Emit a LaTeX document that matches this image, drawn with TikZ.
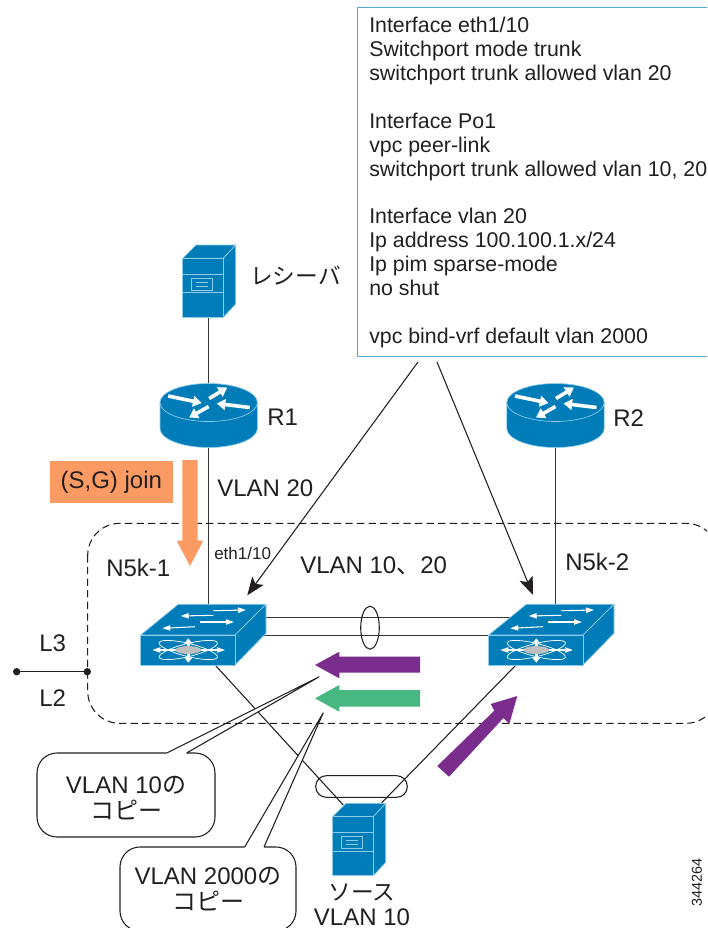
\documentclass[tikz,border=0pt]{standalone}
\usepackage{fontspec}
\setmainfont{Liberation Sans}
\newfontfamily\cjk{Noto Sans CJK JP}
\usetikzlibrary{arrows.meta}
\definecolor{ciscoblue}{HTML}{007DB8}
\definecolor{iconedge}{HTML}{8CCBEA}
\definecolor{ink}{HTML}{231F20}
\definecolor{orangefill}{HTML}{FB9B63}
\definecolor{purplefill}{HTML}{7B2D8E}
\definecolor{greenfill}{HTML}{47B881}
\definecolor{cfgedge}{HTML}{4FA8D5}
\tikzset{
  x=0.75pt,y=-0.75pt,
  every node/.style={text=ink,inner sep=0pt},
  label18/.style={font=\fontsize{18}{21}\selectfont},
  wire/.style={draw=ink!90,line width=0.9pt},
  thinwire/.style={draw=ink,line width=0.8pt},
  iconface/.style={fill=ciscoblue,draw=iconedge,line width=0.5pt,line join=round},
  iconline/.style={draw=iconedge,line width=0.6pt},
  routerarrow/.style={draw=white,line width=2.7pt,-{Triangle[length=6.5pt,width=8pt]}},
  thinarrow/.style={draw=white,line width=0.8pt,-{Triangle[length=6pt,width=4pt]}},
  thickarrow/.style={draw=white,line width=2.3pt,-{Triangle[length=4pt,width=6pt]}},
  calloutbox/.style={draw=ink,line width=0.8pt,rounded corners=15pt,fill=white},
  callouttext/.style={align=center,font=\fontsize{18}{19.6}\selectfont},
  router/.pic={
    \path[iconface] (-48.7,0) -- (-48.7,26) arc[start angle=180,end angle=360,x radius=48.7,y radius=-19] -- (48.7,0) -- cycle;
    \path[iconface] (0,0) ellipse [x radius=48.7,y radius=19];
    \draw[routerarrow] (-40.5,-6.5) -- (-7,0.5);
    \draw[routerarrow] (0.5,-4) -- (18.5,-15);
    \draw[routerarrow] (41,5) -- (8,1);
    \draw[routerarrow] (0,4) -- (-19.5,15);
  },
  serverpic/.pic={
    \path[iconface] (0,0) -- (13.3,-13.3) -- (53,-13.3) -- (40.6,0) -- cycle;
    \path[iconface] (40.6,0) -- (53,-13.3) -- (53,45.7) -- (40.6,59) -- cycle;
    \path[iconface] (0,0) rectangle (40.6,59);
    \draw[iconline] (0,15.7) -- (40.6,15.7) (0,34.4) -- (40.6,34.4);
    \draw[iconline] (8.6,19.7) rectangle (30,31.7);
    \draw[iconline] (13,24) -- (25.5,24) (13,27.6) -- (25.5,27.6);
  },
  switchpic/.pic={
    \path[iconface] (0,0) -- (37.6,-30.7) -- (125.3,-30.7) -- (94.3,0) -- cycle;
    \path[iconface] (94.3,0) -- (125.3,-30.7) -- (125.3,-1.7) -- (94.3,30) -- cycle;
    \path[iconface] (0,0) rectangle (94.3,30);
    \draw[white,line width=0.55pt] (47.6,15) ellipse [x radius=30,y radius=6.5,rotate=14];
    \draw[white,line width=0.55pt] (47.6,15) ellipse [x radius=30,y radius=6.5,rotate=-14];
    \draw[thinarrow] (47.6,15) -- (11.6,15);
    \draw[thinarrow] (47.6,15) -- (84.3,15);
    \draw[thickarrow] (47.6,15) -- (47.6,3.3);
    \draw[thickarrow] (47.6,15) -- (47.6,27.7);
    \fill[black!25] (47.6,15) ellipse [x radius=13,y radius=4];
    \draw[thinarrow] (72.6,-24.3) -- (105.3,-25);
    \draw[thinarrow] (72.6,-19.7) -- (40,-19);
    \draw[thinarrow] (59.3,-13) -- (93.3,-13);
    \draw[thinarrow] (54.3,-8.3) -- (21.6,-6.7);
  },
}
\begin{document}
\begin{tikzpicture}
\useasboundingbox (0,0) rectangle (707,928);
\clip (0,0) rectangle (707,928);
\fill[white] (0,0) rectangle (707,928);

% layout nodes
\node[minimum width=73.05pt,minimum height=48.75pt] (r1) at (208.7,415.7) {};
\node[minimum width=73.05pt,minimum height=48.75pt] (r2) at (555.5,415.7) {};
\node[minimum width=39.75pt,minimum height=54.2pt] (recv) at (209.2,281.3) {};
\node[minimum width=39.75pt,minimum height=54.2pt] (src) at (359.2,839.8) {};
\node[minimum width=94pt,minimum height=45.5pt] (sw1) at (203.3,634.7) {};
\node[minimum width=94pt,minimum height=45.5pt] (sw2) at (551.3,634.7) {};

% named free ends
\coordinate (sw1low) at (216,666);
\coordinate (srcL) at (343.3,805);
\coordinate (sw2low) at (515,666);
\coordinate (srcR) at (381.7,802.7);
\coordinate (pa1) at (266,617.3);
\coordinate (pa2) at (520,617.3);
\coordinate (pb1) at (262,635.7);
\coordinate (pb2) at (495,635.7);
\coordinate (cfgL) at (418,362);
\coordinate (cfgR) at (437,362);
\coordinate (tipL) at (247.3,595.3);
\coordinate (tipR) at (533,595);
\coordinate (dotA) at (16.7,671.7);
\coordinate (dotB) at (87.3,671.7);
\coordinate (tip1) at (319.3,676.7);
\coordinate (c1a) at (166.7,753);
\coordinate (c1b) at (186.6,753);
\coordinate (tip2) at (323.3,712.7);
\coordinate (c2a) at (244.7,847);
\coordinate (c2b) at (264,847);

% wires
\draw[wire] (recv.south -| r1) -- (r1.north);
\draw[wire] (r1.south) -- (r1.south |- sw1.north);
\draw[wire] (r2.south) -- (r2.south |- sw2.north);
\draw[thinwire] (sw1low) -- (srcL);
\draw[thinwire] (sw2low) -- (srcR);
\draw[wire] (pa1) -- (pa2);
\draw[wire] (pb1) -- (pb2);
\draw[thinwire] (370,627.7) ellipse [x radius=9.3,y radius=21.5];
\draw[thinwire,rounded corners=8pt] (315.7,775.7) rectangle (407.3,797.3);

% icons
\pic at (208.7,402.5) {router};
\pic at (555.5,402.5) {router};
\pic at (182.7,258.3) {serverpic};
\pic at (332.7,816.7) {serverpic};
\pic at (140.7,635) {switchpic};
\pic at (488.7,635) {switchpic};

% callouts
\node[calloutbox,minimum width=133.5pt,minimum height=63pt] (c1) at (126,795) {};
\node[calloutbox,minimum width=132pt,minimum height=63pt] (c2) at (208,889) {};
\node[callouttext] (c1text) at (126,798) {VLAN 10{\cjk の}\\{\cjk コピー}};
\node[callouttext] (c2text) at (208,889.5) {VLAN 2000{\cjk の}\\{\cjk コピー}};
\fill[white] (tip1) -- (c1a) -- ([yshift=-1pt]c1a) -- ([yshift=-1pt]c1b) -- (c1b) -- cycle;
\draw[thinwire] (c1a) -- (tip1) -- (c1b);
\fill[white] (tip2) -- (c2a) -- ([yshift=-1pt]c2a) -- ([yshift=-1pt]c2b) -- (c2b) -- cycle;
\draw[thinwire] (c2a) -- (tip2) -- (c2b);

% dashed domain
\draw[ink,line width=0.8pt,dash pattern=on 5.5pt off 3.2pt,rounded corners=24pt] (87.7,523.3) rectangle (718,723.3);

% config box
\node[draw=cfgedge,line width=0.8pt,fill=white,anchor=north west,minimum width=270pt,minimum height=262pt] (cfg) at (357,7) {};
\node[anchor=north west,align=left,font=\fontsize{16}{17.93}\selectfont] (cfgtext) at (369,17) {Interface eth1/10\\Switchport mode trunk\\switchport trunk allowed vlan 20\\[17.93pt]Interface Po1\\vpc peer-link\\switchport trunk allowed vlan 10, 20\\[17.93pt]Interface vlan 20\\Ip address 100.100.1.x/24\\Ip pim sparse-mode\\no shut\\[17.93pt]vpc bind-vrf default vlan 2000};

\draw[thinwire,-{Stealth[length=13.5pt,width=10.5pt,inset=3pt]}] (cfgL) -- (tipL);
\draw[thinwire,-{Stealth[length=13.5pt,width=10.5pt,inset=3pt]}] (cfgR) -- (tipR);

% L3/L2 boundary
\draw[draw=ink,line width=1.1pt] (dotA) -- (dotB);
\fill[ink] (dotA) circle [radius=3.7];
\fill[ink] (dotB) circle [radius=3.7];

% join
\node[fill=orangefill,minimum width=92pt,minimum height=31.7pt,label18] (join) at (111.3,482.2) {(S,G) join};
\fill[orangefill] (182.3,460) -- (197.7,460) -- (197.7,540.7) -- (203.3,540.7) -- (190,566) -- (176.7,540.7) -- (182.3,540.7) -- cycle;

% traffic arrows
\fill[purplefill] (420,656.7) -- (339.3,656.7) -- (339.3,651.7) -- (315,665) -- (339.3,678.3) -- (339.3,672.7) -- (420,672.7) -- cycle;
\fill[greenfill] (420,690) -- (339.3,690) -- (339.3,685) -- (315,698.3) -- (339.3,711.7) -- (339.3,706.7) -- (420,706.7) -- cycle;
\fill[purplefill] (437.3,766) -- (494.3,710.7) -- (490.7,704) -- (517.3,696) -- (509.3,724) -- (503.5,718) -- (449,776.7) -- cycle;

% labels
\node[anchor=west,font=\cjk\fontsize{17}{20}\selectfont] (lblrecv) at (250,276) {レシーバ};
\node[anchor=west,label18] (lblr1) at (267,417) {R1};
\node[anchor=west,label18] (lblr2) at (613,418) {R2};
\node[anchor=west,label18] (lblv20) at (217,488) {VLAN 20};
\node[anchor=west,font=\fontsize{12.75}{15}\selectfont] (lbleth) at (214,553) {eth1/10};
\node[anchor=west,label18] (lblpeer) at (300,566) {VLAN 10{\cjk 、}20};
\node[anchor=west,label18] (lbln1) at (106,568) {N5k-1};
\node[anchor=west,label18] (lbln2) at (565,562) {N5k-2};
\node[anchor=west,label18] (lbll3) at (39,643) {L3};
\node[anchor=west,label18] (lbll2) at (39,698) {L2};
\node[font=\cjk\fontsize{17}{20}\selectfont] (lblsrc) at (362,893) {ソース};
\node[label18] (lblsrcv) at (362,917.5) {VLAN 10};
\node[rotate=90,font=\fontsize{10.8}{13}\selectfont] (lblid) at (697,882) {344264};
\end{tikzpicture}
\end{document}
